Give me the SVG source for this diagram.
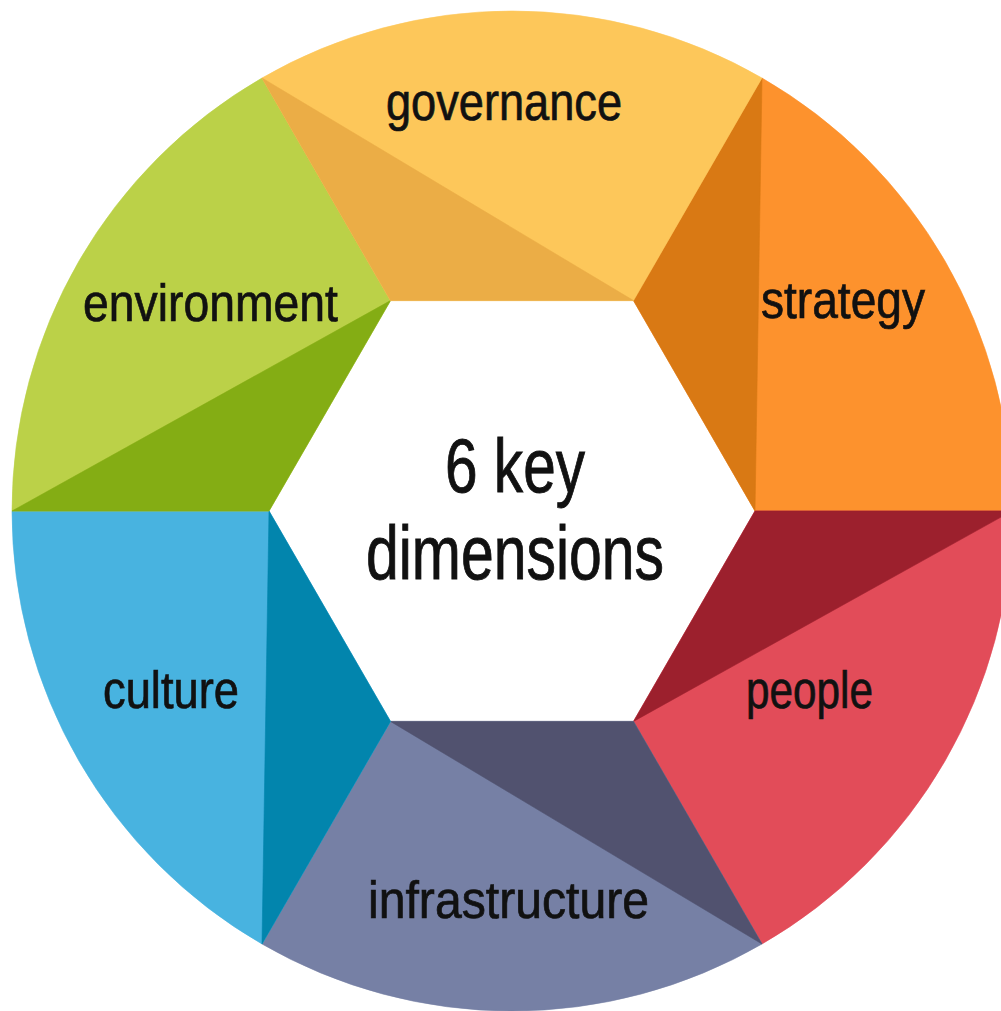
<svg xmlns="http://www.w3.org/2000/svg" width="1001" height="1011" viewBox="0 0 1001 1011">
<style>
.lbl{font-family:"Liberation Sans","DejaVu Sans",Arial,sans-serif;font-size:51px;fill:#111;stroke:#111;stroke-width:0.7px;}
.ctr{font-family:"Liberation Sans","DejaVu Sans",Arial,sans-serif;font-size:76px;fill:#111;stroke:#111;stroke-width:0.9px;}
</style>
<rect width="1001" height="1011" fill="#ffffff"/>
<g id="strategy">
<path d="M633.5,300.6 L762,78 A500,500 0 0 1 1012,511 L755,511 Z" fill="#FD922D" stroke="#FD922D" stroke-width="0.6"/>
<path d="M762,78 L633.5,300.6 L755,511 Z" fill="#D97914" stroke="#D97914" stroke-width="0.6"/>
<text class="lbl" x="761" y="318" textLength="164" lengthAdjust="spacingAndGlyphs">strategy</text>
</g>
<g id="people">
<path d="M755,511 L1012,511 A500,500 0 0 1 762,944 L633.5,721.4 Z" fill="#E24C59" stroke="#E24C59" stroke-width="0.6"/>
<path d="M1012,511 L755,511 L633.5,721.4 Z" fill="#9C202D" stroke="#9C202D" stroke-width="0.6"/>
<text class="lbl" x="746" y="708" textLength="127" lengthAdjust="spacingAndGlyphs">people</text>
</g>
<g id="infrastructure">
<path d="M633.5,721.4 L762,944 A500,500 0 0 1 262,944 L390.5,721.4 Z" fill="#7680A5" stroke="#7680A5" stroke-width="0.6"/>
<path d="M762,944 L633.5,721.4 L390.5,721.4 Z" fill="#51526F" stroke="#51526F" stroke-width="0.6"/>
<text class="lbl" x="368" y="918" textLength="281" lengthAdjust="spacingAndGlyphs">infrastructure</text>
</g>
<g id="culture">
<path d="M390.5,721.4 L262,944 A500,500 0 0 1 12,511 L269,511 Z" fill="#48B3E0" stroke="#48B3E0" stroke-width="0.6"/>
<path d="M262,944 L390.5,721.4 L269,511 Z" fill="#0285AD" stroke="#0285AD" stroke-width="0.6"/>
<text class="lbl" x="103" y="708" textLength="136" lengthAdjust="spacingAndGlyphs">culture</text>
</g>
<g id="environment">
<path d="M269,511 L12,511 A500,500 0 0 1 262,78 L390.5,300.6 Z" fill="#BBD148" stroke="#BBD148" stroke-width="0.6"/>
<path d="M12,511 L269,511 L390.5,300.6 Z" fill="#84AD14" stroke="#84AD14" stroke-width="0.6"/>
<text class="lbl" x="83" y="321" textLength="255" lengthAdjust="spacingAndGlyphs">environment</text>
</g>
<g id="governance">
<path d="M390.5,300.6 L262,78 A500,500 0 0 1 762,78 L633.5,300.6 Z" fill="#FDC75A" stroke="#FDC75A" stroke-width="0.6"/>
<path d="M262,78 L390.5,300.6 L633.5,300.6 Z" fill="#EBAD46" stroke="#EBAD46" stroke-width="0.6"/>
<text class="lbl" x="386" y="120" textLength="236" lengthAdjust="spacingAndGlyphs">governance</text>
</g>
<g id="center">
<text class="ctr" x="445" y="492" textLength="140" lengthAdjust="spacingAndGlyphs">6 key</text>
<text class="ctr" x="366" y="579" textLength="298" lengthAdjust="spacingAndGlyphs">dimensions</text>
</g>
<g id="connectors"/>
</svg>
